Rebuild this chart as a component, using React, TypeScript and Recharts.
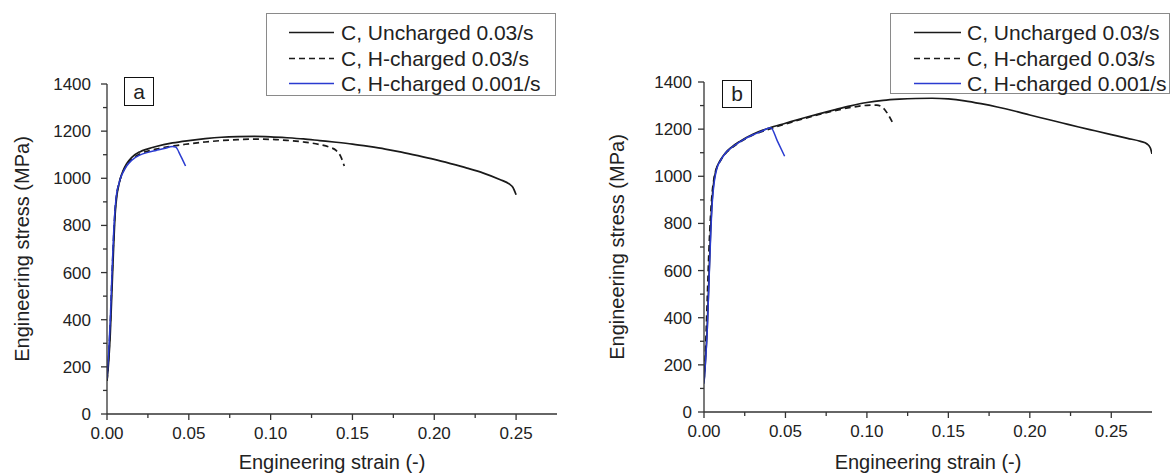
import { LineChart, Line, XAxis, YAxis } from 'recharts';

// series names shared by both panels
const seriesNames = ['C, Uncharged 0.03/s', 'C, H-charged 0.03/s', 'C, H-charged 0.001/s'];
const seriesColors = ['#1a1a1a', '#1a1a1a', '#2a3bd0'];
const seriesDash = ['', '6 4', ''];

// axis ticks
const xMajorTicks = [0, 0.05, 0.1, 0.15, 0.2, 0.25];
const xMinorTicks = [0.025, 0.075, 0.125, 0.175, 0.225];
const yMajorTicks = [0, 200, 400, 600, 800, 1000, 1200, 1400];
const yMinorTicks = [100, 300, 500, 700, 900, 1100, 1300];

// panel a
const aUnchStrain = [0, 0.001, 0.002, 0.003, 0.004, 0.005, 0.006, 0.007, 0.008, 0.01, 0.012, 0.015, 0.02, 0.025, 0.03, 0.04, 0.05, 0.06, 0.07, 0.08, 0.09, 0.1, 0.11, 0.12, 0.13, 0.14, 0.15, 0.16, 0.17, 0.18, 0.19, 0.2, 0.21, 0.22, 0.23, 0.24, 0.246, 0.248, 0.25];
const aUnchStress = [140, 220, 340, 520, 700, 850, 925, 965, 995, 1035, 1062, 1088, 1112, 1125, 1135, 1150, 1160, 1168, 1174, 1177, 1178, 1176, 1172, 1167, 1160, 1153, 1145, 1135, 1124, 1111, 1096, 1080, 1062, 1043, 1022, 995, 975, 962, 930];
const aH03Strain = [0, 0.001, 0.002, 0.003, 0.004, 0.005, 0.006, 0.007, 0.008, 0.01, 0.012, 0.015, 0.02, 0.025, 0.03, 0.04, 0.05, 0.06, 0.07, 0.08, 0.09, 0.1, 0.11, 0.12, 0.13, 0.136, 0.14, 0.143, 0.145];
const aH03Stress = [140, 240, 380, 570, 740, 870, 935, 970, 995, 1030, 1056, 1080, 1103, 1115, 1124, 1137, 1146, 1154, 1160, 1164, 1166, 1165, 1161, 1154, 1143, 1132, 1118, 1090, 1052];
const aH001Strain = [0, 0.001, 0.002, 0.003, 0.004, 0.005, 0.006, 0.007, 0.008, 0.01, 0.012, 0.015, 0.02, 0.025, 0.03, 0.035, 0.04, 0.042, 0.045, 0.048];
const aH001Stress = [150, 260, 400, 590, 760, 875, 940, 970, 995, 1028, 1052, 1076, 1098, 1110, 1118, 1126, 1135, 1132, 1095, 1052];

// panel b
const bUnchStrain = [0, 0.001, 0.002, 0.003, 0.004, 0.005, 0.006, 0.007, 0.008, 0.01, 0.013, 0.017, 0.022, 0.03, 0.04, 0.05, 0.06, 0.07, 0.08, 0.09, 0.1, 0.11, 0.12, 0.13, 0.14, 0.15, 0.16, 0.17, 0.18, 0.19, 0.2, 0.21, 0.22, 0.23, 0.24, 0.25, 0.26, 0.268, 0.272, 0.274, 0.275];
const bUnchStress = [130, 230, 360, 560, 760, 900, 975, 1015, 1040, 1068, 1098, 1124, 1148, 1178, 1205, 1225, 1245, 1264, 1282, 1299, 1313, 1322, 1327, 1330, 1331, 1328, 1320, 1308, 1294, 1278, 1260, 1243, 1226, 1209, 1193, 1177, 1161, 1148, 1137, 1120, 1095];
const bH03Strain = [0, 0.001, 0.002, 0.003, 0.004, 0.005, 0.006, 0.007, 0.008, 0.01, 0.013, 0.017, 0.022, 0.03, 0.04, 0.05, 0.06, 0.07, 0.08, 0.09, 0.1, 0.106, 0.11, 0.113, 0.116];
const bH03Stress = [130, 280, 480, 680, 830, 930, 985, 1020, 1040, 1065, 1095, 1120, 1145, 1175, 1200, 1222, 1242, 1261, 1278, 1292, 1301, 1302, 1290, 1262, 1225];
const bH001Strain = [0, 0.001, 0.002, 0.003, 0.004, 0.005, 0.006, 0.007, 0.008, 0.01, 0.013, 0.017, 0.022, 0.03, 0.035, 0.041, 0.045, 0.0495];
const bH001Stress = [120, 220, 350, 540, 730, 880, 960, 1005, 1035, 1065, 1097, 1122, 1146, 1176, 1190, 1206, 1150, 1085];

const zip = (xs: number[], ys: number[]) => xs.map((strain, i) => ({ strain, stress: ys[i] }));

const panelA = [zip(aUnchStrain, aUnchStress), zip(aH03Strain, aH03Stress), zip(aH001Strain, aH001Stress)];
const panelB = [zip(bUnchStrain, bUnchStress), zip(bH03Strain, bH03Stress), zip(bH001Strain, bH001Stress)];

const FONT = '"Liberation Sans", Arial, Helvetica, sans-serif';
const AXIS = '#333';
const TEXT = '#222';
const TICK_SIZE = 6;
const TICK_MARGIN = 7;

const isIn = (v: number, list: number[]) => list.some(t => Math.abs(t - v) < 1e-9);

function XTick(props: any) {
  const { x, y, payload } = props;
  const major = isIn(payload.value, xMajorTicks);
  const y0 = y - TICK_SIZE - TICK_MARGIN;
  return (
    <g>
      <line x1={x} x2={x} y1={y0} y2={y0 + (major ? 6 : 4)} stroke={AXIS} strokeWidth={1.3} />
      {major && (
        <text x={x} y={y} dy="0.71em" textAnchor="middle" fontSize={17} fill={TEXT} fontFamily={FONT}>
          {payload.value.toFixed(2)}
        </text>
      )}
    </g>
  );
}

function YTick(props: any) {
  const { x, y, payload, gap } = props;
  const major = isIn(payload.value, yMajorTicks);
  const x0 = x + TICK_SIZE + TICK_MARGIN;
  return (
    <g>
      <line x1={x0} x2={x0 - (major ? 6 : 4)} y1={y} y2={y} stroke={AXIS} strokeWidth={1.3} />
      {major && (
        <text x={x0 - gap} y={y} dy="0.35em" textAnchor="end" fontSize={17} fill={TEXT} fontFamily={FONT}>
          {payload.value}
        </text>
      )}
    </g>
  );
}

function Panel({ left, width, yAxisWidth, top, right, bottom, titleX, labelGap, letter, letterBox, legendBox, series }: any) {
  const xTicks = [...xMajorTicks, ...xMinorTicks].sort((p, q) => p - q);
  const yTicks = [...yMajorTicks, ...yMinorTicks].sort((p, q) => p - q);
  return (
    <div style={{ position: 'absolute', left, top: 0, width, height: 476 }}>
      <LineChart width={width} height={476} margin={{ top, right, bottom: 0, left: 0 }}>
        <XAxis
          type="number"
          dataKey="strain"
          domain={[0, 0.275]}
          ticks={xTicks}
          interval={0}
          allowDataOverflow
          height={bottom}
          tickSize={TICK_SIZE}
          tickMargin={TICK_MARGIN}
          tickLine={false}
          tick={<XTick />}
          axisLine={{ stroke: AXIS, strokeWidth: 1.3 }}
          label={{ value: 'Engineering strain (-)', position: 'insideBottom', offset: 7, fontSize: 20, fill: TEXT, fontFamily: FONT }}
        />
        <YAxis
          type="number"
          dataKey="stress"
          domain={[0, 1400]}
          ticks={yTicks}
          interval={0}
          allowDataOverflow
          width={yAxisWidth}
          tickSize={TICK_SIZE}
          tickMargin={TICK_MARGIN}
          tickLine={false}
          tick={<YTick gap={labelGap} />}
          axisLine={{ stroke: AXIS, strokeWidth: 1.3 }}
          label={{ value: 'Engineering stress (MPa)', angle: -90, position: 'insideLeft', offset: titleX, fontSize: 20, fill: TEXT, fontFamily: FONT, style: { textAnchor: 'middle' } }}
        />
        {series.map((pts: any[], i: number) => (
          <Line
            key={seriesNames[i]}
            data={pts}
            dataKey="stress"
            type="monotone"
            stroke={seriesColors[i]}
            strokeWidth={i === 2 ? 1.5 : 1.7}
            strokeDasharray={seriesDash[i] || undefined}
            dot={false}
            isAnimationActive={false}
          />
        ))}
      </LineChart>
      <div
        style={{
          position: 'absolute', left: letterBox.left, top: letterBox.top, width: letterBox.w, height: letterBox.h,
          border: '1.5px solid #111', boxSizing: 'border-box', fontFamily: FONT, fontSize: 21, color: TEXT,
          display: 'flex', alignItems: 'center', justifyContent: 'center', background: '#fff',
        }}
      >
        {letter}
      </div>
      <div
        style={{
          position: 'absolute', left: legendBox.left, top: 13, width: legendBox.w, height: legendBox.h,
          border: '1px solid #8a8a8a', boxSizing: 'border-box', background: '#fff', fontFamily: FONT,
        }}
      >
        {seriesNames.map((name, i) => (
          <div key={name} style={{ position: 'absolute', left: 0, top: 6 + i * 25.5, height: 25, width: legendBox.w, whiteSpace: 'nowrap' }}>
            <svg width={legendBox.lineW} height={25} style={{ position: 'absolute', left: legendBox.lineX, top: 0 }}>
              <line x1={0} x2={legendBox.lineW} y1={12.5} y2={12.5} stroke={seriesColors[i]} strokeWidth={1.5} strokeDasharray={seriesDash[i] || undefined} />
            </svg>
            <span style={{ position: 'absolute', left: legendBox.textX, top: 0, lineHeight: '25px', fontSize: 21, color: TEXT }}>{name}</span>
          </div>
        ))}
      </div>
    </div>
  );
}

export default function App() {
  return (
    <div style={{ position: 'absolute', left: 0, top: 0, width: 1172, height: 476, background: '#fff', overflow: 'hidden' }}>
      <Panel
        left={0}
        width={590}
        yAxisWidth={107}
        top={84}
        right={33}
        bottom={62}
        titleX={22}
        labelGap={16}
        letter="a"
        letterBox={{ left: 124, top: 77, w: 30, h: 29 }}
        legendBox={{ left: 266, w: 290, h: 83, lineX: 22, lineW: 45, textX: 74 }}
        series={panelA}
      />
      <Panel
        left={580}
        width={592}
        yAxisWidth={124}
        top={82}
        right={20}
        bottom={64}
        titleX={37}
        labelGap={12}
        letter="b"
        letterBox={{ left: 142, top: 80, w: 30, h: 28 }}
        legendBox={{ left: 310, w: 280, h: 81, lineX: 23, lineW: 47, textX: 76 }}
        series={panelB}
      />
    </div>
  );
}
